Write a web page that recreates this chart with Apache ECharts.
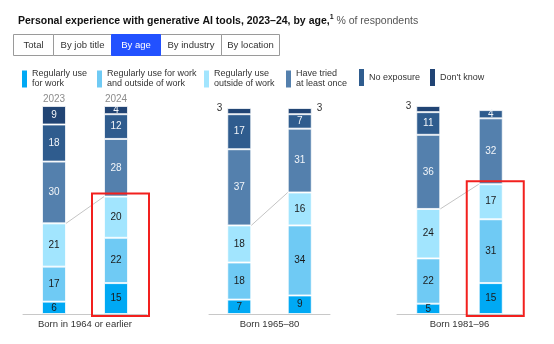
<!DOCTYPE html>
<html><head><meta charset="utf-8">
<script src="https://cdn.jsdelivr.net/npm/echarts@6/dist/echarts.min.js"></script>
<style>html,body{margin:0;padding:0;background:#fff}#c{width:554px;height:344px}</style>
</head><body><div id="c"></div>
<script>
// ---- data ----
const groups = ['Born in 1964 or earlier', 'Born 1965–80', 'Born 1981–96'];
const years = ['2023', '2024'];
const seriesNames = ['Regularly use for work', 'Regularly use for work and outside of work', 'Regularly use outside of work', 'Have tried at least once', 'No exposure', "Don't know"];
const legendLabels = ['Regularly use\nfor work', 'Regularly use for work\nand outside of work', 'Regularly use\noutside of work', 'Have tried\nat least once', 'No exposure', "Don't know"];
// order: [g1-2023, g1-2024, g2-2023, g2-2024, g3-2023, g3-2024]
const regWork    = [6, 15, 7, 9, 5, 15];
const regBoth    = [17, 22, 18, 34, 22, 31];
const regOutside = [21, 20, 18, 16, 24, 17];
const triedOnce  = [30, 28, 37, 31, 36, 32];
const noExposure = [18, 12, 17, 7, 11, 4];
const dontKnow   = [9, 4, 3, 3, 3, null];
const tabs = ['Total', 'By job title', 'By age', 'By industry', 'By location'];
const activeTab = 2;
const highlighted = [0, 2];

// ---- style / layout ----
const colors = ['#00A9F4', '#6FCAF4', '#A2E5FE', '#5480AD', '#2F5C8E', '#214474'];
const labelColors = ['#1a1a1a', '#1a1a1a', '#1a1a1a', '#f2f5f9', '#f2f5f9', '#f2f5f9'];
const gridPos = [{left: 23, width: 124}, {left: 209, width: 121}, {left: 397, width: 125}];
const legendX = [17, 92, 199, 281, 354, 425];
const tabEdges = [13, 53, 111, 160, 221, 279];
const FONT = 'Liberation Sans, Arial, sans-serif';
const allData = [regWork, regBoth, regOutside, triedOnce, noExposure, dontKnow];

const chart = echarts.init(document.getElementById('c'), null, {renderer: 'canvas'});

const grid = gridPos.map(g => ({left: g.left, width: g.width, top: 107, height: 207}));
const xAxis = groups.map((name, gi) => ({
  type: 'category', gridIndex: gi, data: years,
  axisLine: {lineStyle: {color: '#c8c8c8', width: 1}},
  axisTick: {show: false}, axisLabel: {show: false},
  name: name, nameLocation: 'middle', nameGap: 5,
  nameTextStyle: {fontSize: 9.5, color: '#333', fontFamily: FONT}
}));
xAxis.push({
  type: 'category', gridIndex: 0, data: years, position: 'top',
  axisLine: {show: false}, axisTick: {show: false},
  axisLabel: {color: '#8c8c8c', fontSize: 10, margin: 3, fontFamily: FONT}
});
const yAxis = groups.map((_, gi) => ({
  type: 'value', gridIndex: gi, min: 0, max: 100.5, show: false, splitLine: {show: false}
}));

const series = [];
groups.forEach((g, gi) => {
  allData.forEach((arr, si) => {
    const data = years.map((y, yi) => {
      const v = arr[gi * 2 + yi];
      if (si === 5 && v != null && v <= 3) {
        return {value: v, label: {position: yi === 0 ? 'left' : 'right', color: '#333', distance: 5, offset: [0, -3]}};
      }
      return v;
    });
    series.push({
      type: 'bar', name: seriesNames[si], xAxisIndex: gi, yAxisIndex: gi,
      stack: 'g' + gi, barWidth: 24, data: data, clip: false,
      itemStyle: {color: colors[si], borderColor: 'rgba(255,255,255,0.75)', borderWidth: 1},
      label: {show: true, position: 'inside', fontSize: 10, color: labelColors[si], fontFamily: FONT},
      emphasis: {disabled: true}
    });
  });
  // connector between top of "regularly use" segments
  const cum = years.map((y, yi) => regWork[gi * 2 + yi] + regBoth[gi * 2 + yi] + regOutside[gi * 2 + yi]);
  series.push({
    type: 'custom', xAxisIndex: gi, yAxisIndex: gi, silent: true, clip: false,
    data: [[0, cum[0], 1, cum[1]]],
    encode: {x: 0, y: 1},
    renderItem: (params, api) => {
      const p0 = api.coord([api.value(0), api.value(1)]);
      const p1 = api.coord([api.value(2), api.value(3)]);
      return {type: 'line', shape: {x1: p0[0] + 12, y1: p0[1], x2: p1[0] - 12, y2: p1[1]},
        style: {stroke: '#c4c4c4', lineWidth: 1}};
    }
  });
  if (highlighted.includes(gi)) {
    series.push({
      type: 'custom', xAxisIndex: gi, yAxisIndex: gi, silent: true, clip: false, z: 10,
      data: [[1, cum[1]]],
      encode: {x: 0, y: 1},
      renderItem: (params, api) => {
        const top = api.coord([api.value(0), api.value(1)]);
        const base = api.coord([api.value(0), 0]);
        return {type: 'rect', shape: {x: top[0] - 24, y: top[1] - 3, width: 57, height: base[1] - top[1] + 5},
          style: {fill: 'none', stroke: '#F2201E', lineWidth: 2}};
      }
    });
  }
});

const legend = seriesNames.map((n, i) => ({
  data: [n], left: legendX[i], top: 64, orient: 'horizontal',
  icon: 'rect', itemWidth: 5, itemHeight: 17, selectedMode: false,
  formatter: () => legendLabels[i],
  textStyle: {fontSize: 9, lineHeight: 10, color: '#333', fontFamily: FONT},
  itemStyle: {color: colors[i], borderWidth: 0}
}));

const graphic = [];
tabs.forEach((t, i) => {
  const x0 = tabEdges[i], x1 = tabEdges[i + 1];
  graphic.push({type: 'rect', shape: {x: x0 + 0.5, y: 34.5, width: x1 - x0, height: 21},
    style: {fill: i === activeTab ? '#2251FF' : '#fff', stroke: i === activeTab ? '#2251FF' : '#9a9a9a', lineWidth: 1}, z: i === activeTab ? 2 : 1});
  graphic.push({type: 'text', x: (x0 + x1) / 2 + 0.5, y: 45, z: 3,
    style: {text: t, fontSize: 9.5, fontFamily: FONT, fill: i === activeTab ? '#fff' : '#333', align: 'center', verticalAlign: 'middle'}});
});

chart.setOption({
  animation: false,
  title: {
    left: 13, top: 9,
    text: '{b|Personal experience with generative AI tools, 2023–24, by age,}{s|1}{r| % of respondents}',
    textStyle: {
      fontWeight: 'normal',
      rich: {
        b: {fontSize: 10.5, fontWeight: 'bold', color: '#111', fontFamily: FONT, lineHeight: 14},
        s: {fontSize: 7, fontWeight: 'bold', color: '#111', fontFamily: FONT, verticalAlign: 'top', lineHeight: 10},
        r: {fontSize: 10.5, fontWeight: 'normal', color: '#555', fontFamily: FONT, lineHeight: 14}
      }
    }
  },
  legend: legend,
  grid: grid,
  xAxis: xAxis,
  yAxis: yAxis,
  series: series,
  graphic: graphic
});
</script>
</body></html>
